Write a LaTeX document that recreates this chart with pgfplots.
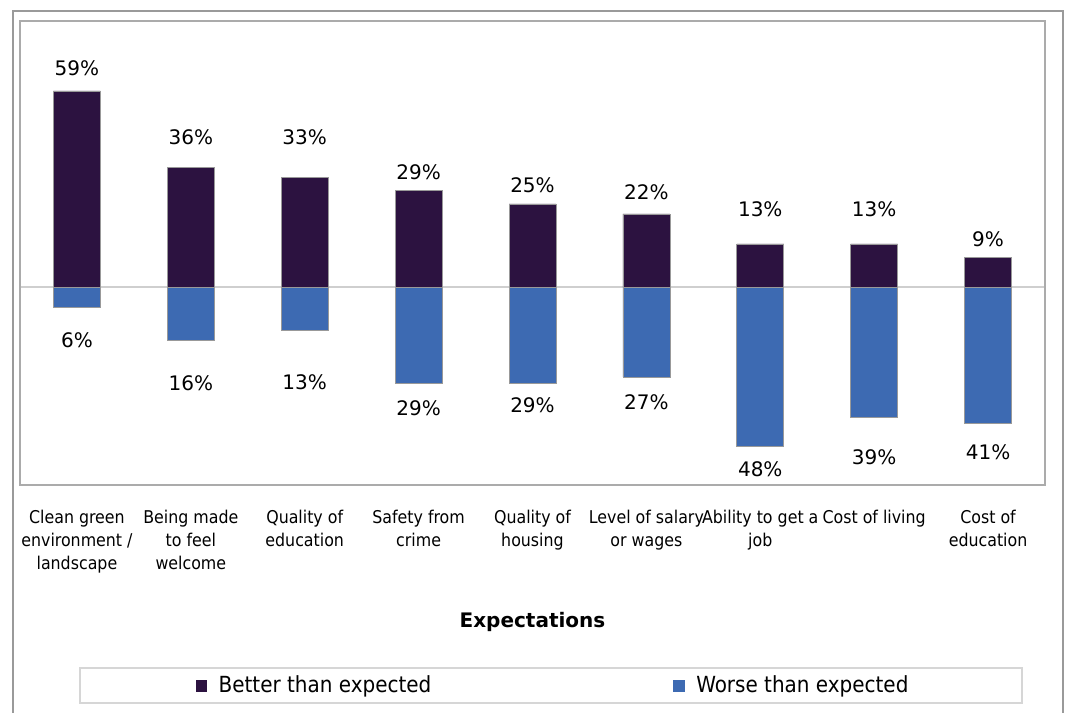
\documentclass[border=0pt]{standalone}
\usepackage{fontspec}
\setmainfont{DejaVu Sans}
\newfontfamily\cond{DejaVu Sans Condensed}
\usepackage{pgfplots}
\usepackage{pgfplotstable}
\pgfplotsset{compat=1.18}
\definecolor{cdark}{HTML}{2C1240}
\definecolor{cblue}{HTML}{3D6AB2}
\definecolor{cframe}{HTML}{9A9A9A}
\definecolor{pframe}{HTML}{ABABAB}
\definecolor{cbase}{HTML}{CFCFCF}
\definecolor{lframe}{HTML}{D6D6D6}

\pgfplotstableread{
x pos neg py ny
0 59 6 65.8 -15.9
1 36 16 45 -28.8
2 33 13 45 -28.5
3 29 29 34.5 -36.3
4 25 29 30.6 -35.4
5 22 27 28.5 -34.5
6 13 48 23.4 -54.9
7 13 39 23.4 -51
8 9 41 14.4 -49.5
}\datatable

\begin{document}
\begin{tikzpicture}[x=1pt,y=1pt]
\useasboundingbox (0,0) rectangle (533.5,356.5);
\draw[cframe, line width=0.9pt] (6.5,-2) -- (6.5,351) -- (531.5,351) -- (531.5,-2);
\draw[lframe, line width=0.6pt] (40,5) rectangle (511,22.5);
\begin{axis}[
 at={(10pt,114pt)}, anchor=south west,
 scale only axis, width=512.5pt, height=232pt,
 xmin=-0.5, xmax=8.5, ymin=-59.5, ymax=80,
 axis line style={pframe, line width=0.8pt},
 xtick={0,...,8},
 xticklabels={{Clean green\\environment /\\landscape},{Being made\\to feel\\welcome},{Quality of\\education},{Safety from\\crime},{Quality of\\housing},{Level of salary\\or wages},{Ability to get a\\job},{Cost of living},{Cost of\\education}},
 ytick={0}, yticklabels={}, ymajorgrids, major grid style={cbase, line width=0.8pt},
 major tick length=0pt,
 xticklabel style={font=\cond\fontsize{8.8}{11.5}\selectfont, align=center, yshift=-9pt},
 xlabel={Expectations},
 xlabel style={font=\bfseries\fontsize{10}{12}\selectfont, at={(axis description cs:0.5,-0.295)}, anchor=center},
 legend style={draw=none, fill=none, at={(axis description cs:0.521,-0.432)}, anchor=center, legend columns=2, font=\cond\fontsize{11.1}{13}\selectfont,
   /tikz/every odd column/.append style={column sep=4pt},
   /tikz/every even column/.append style={column sep=119pt}},
 clip=false,
]
\addplot[ybar, bar width=23.5pt, fill=cdark, draw=gray!80, line width=0.3pt,
  legend image code/.code={\fill[cdark] (0pt,-2.75pt) rectangle (5.2pt,2.75pt);}]
  table[x=x,y=pos]{\datatable};
\addlegendentry{Better than expected}
\addplot[ybar, bar width=23.5pt, fill=cblue, draw=gray!80, line width=0.3pt,
  legend image code/.code={\fill[cblue] (0pt,-2.75pt) rectangle (5.2pt,2.75pt);}]
  table[x=x,y expr=-\thisrow{neg}]{\datatable};
\addlegendentry{Worse than expected}
\addplot[draw=none, mark=none, forget plot,
  nodes near coords={\pgfmathprintnumber[assume math mode=true]{\pgfplotspointmeta}\%}, point meta=explicit,
  nodes near coords style={anchor=center, font=\fontsize{10}{12}\selectfont, text=black}]
  table[x=x,y=py,meta=pos]{\datatable};
\addplot[draw=none, mark=none, forget plot,
  nodes near coords={\pgfmathprintnumber[assume math mode=true]{\pgfplotspointmeta}\%}, point meta=explicit,
  nodes near coords style={anchor=center, font=\fontsize{10}{12}\selectfont, text=black}]
  table[x=x,y=ny,meta=neg]{\datatable};
\end{axis}
\end{tikzpicture}
\end{document}
